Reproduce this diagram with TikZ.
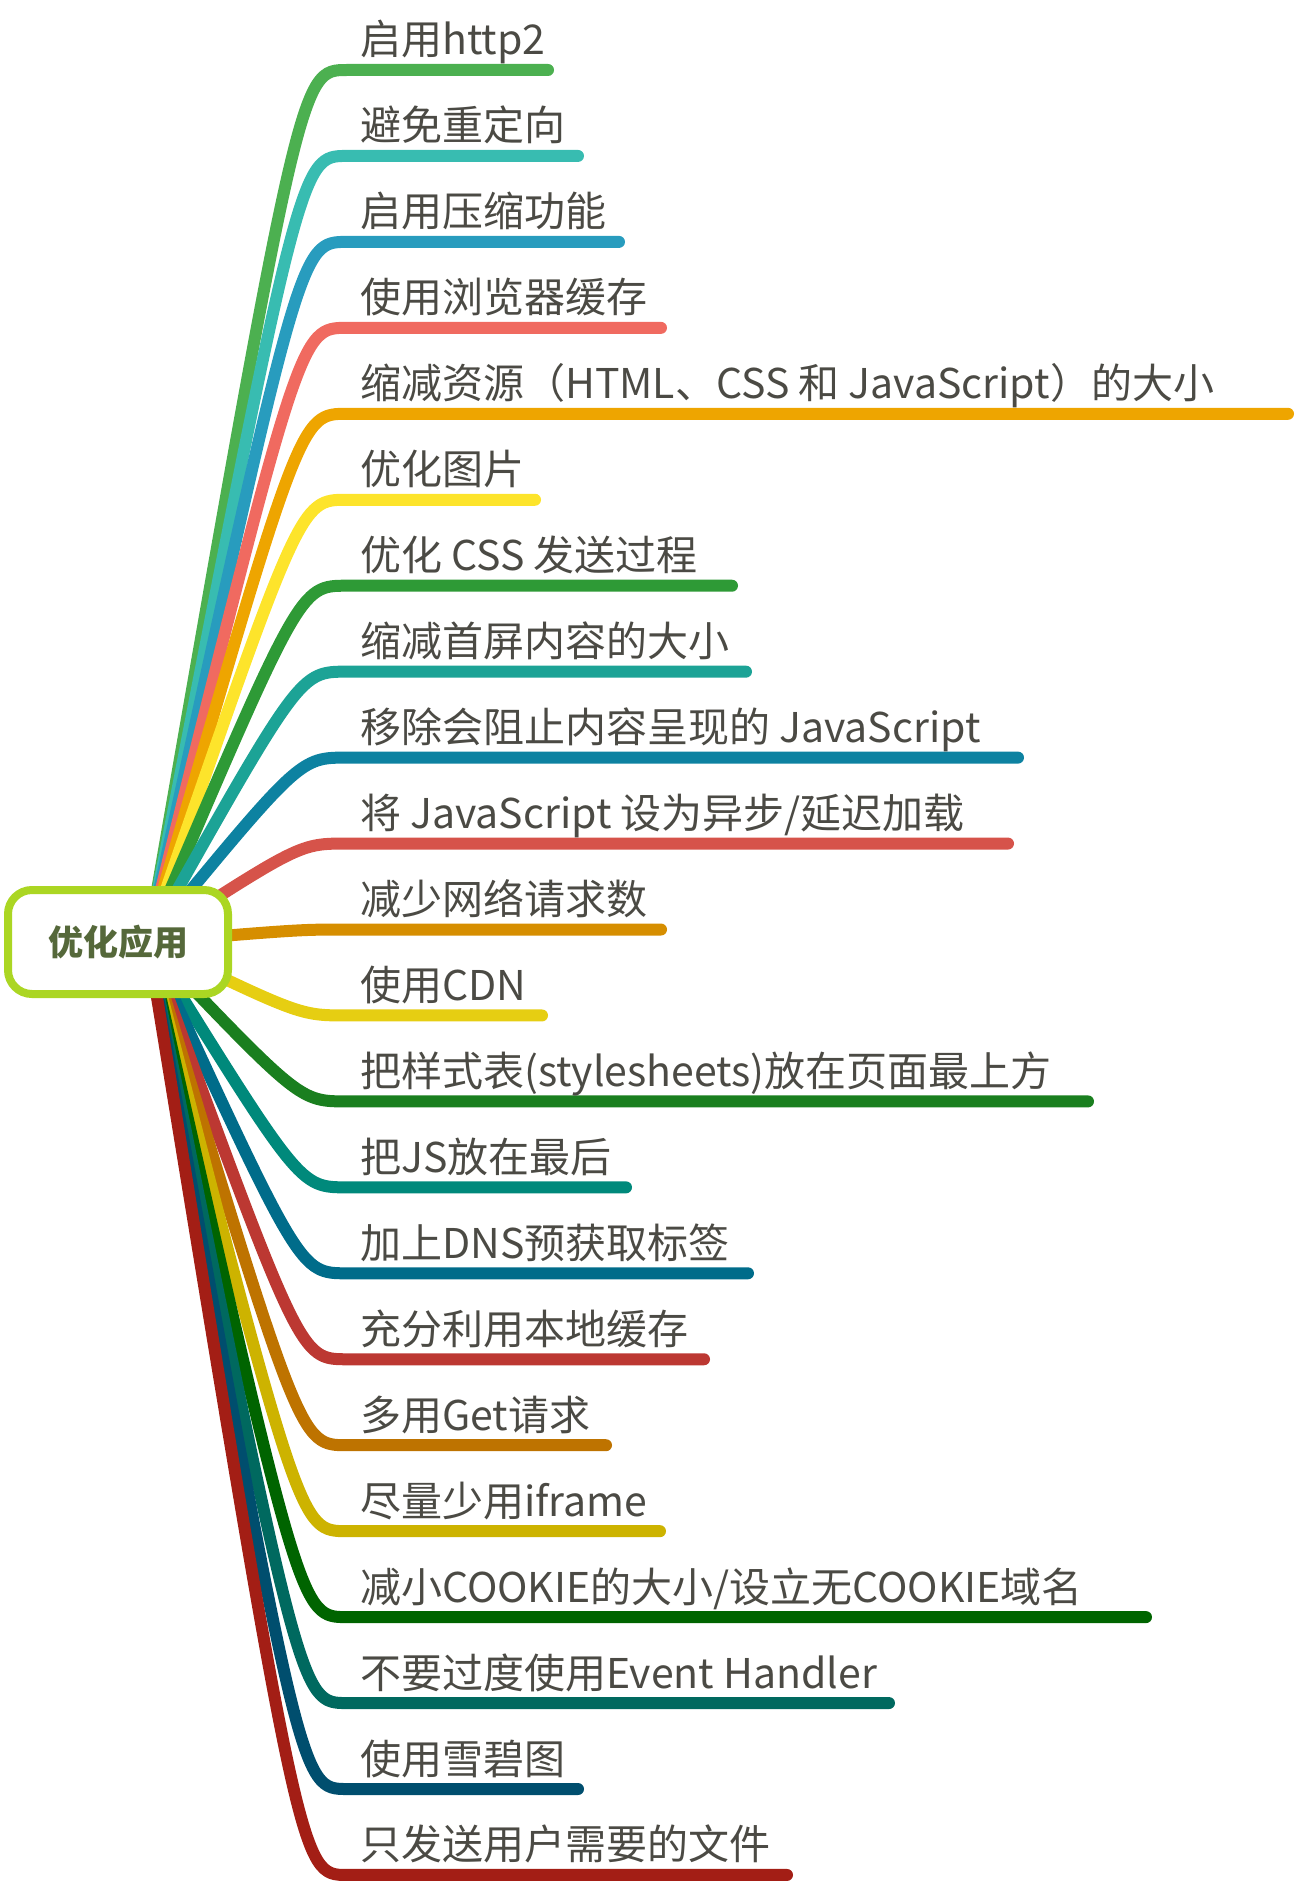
\documentclass[tikz,border=0pt]{standalone}
\usepackage{fontspec}
\setmainfont{Noto Sans CJK SC}
\newfontfamily\cjk{Noto Sans CJK SC}
\usetikzlibrary{backgrounds}
\definecolor{c1}{HTML}{4CB050}
\definecolor{c2}{HTML}{38BCB1}
\definecolor{c3}{HTML}{289CBE}
\definecolor{c4}{HTML}{F06A60}
\definecolor{c5}{HTML}{EEA500}
\definecolor{c6}{HTML}{FDE42B}
\definecolor{c7}{HTML}{2E9A36}
\definecolor{c8}{HTML}{1CA396}
\definecolor{c9}{HTML}{0D82A1}
\definecolor{c10}{HTML}{D6534A}
\definecolor{c11}{HTML}{D68E00}
\definecolor{c12}{HTML}{E6CE12}
\definecolor{c13}{HTML}{1A7F1F}
\definecolor{c14}{HTML}{00897B}
\definecolor{c15}{HTML}{006C8A}
\definecolor{c16}{HTML}{BC3832}
\definecolor{c17}{HTML}{BE7300}
\definecolor{c18}{HTML}{CDB300}
\definecolor{c19}{HTML}{006400}
\definecolor{c20}{HTML}{00695F}
\definecolor{c21}{HTML}{004E6E}
\definecolor{c22}{HTML}{A31E15}
\definecolor{lblcol}{HTML}{4B4A44}
\definecolor{rootborder}{HTML}{ABD623}
\definecolor{roottext}{HTML}{55683A}
\tikzset{
  lbl/.style={inner sep=0pt, text=lblcol, font=\cjk\fontsize{41}{41}\selectfont},
  br/.style={line width=12pt, line cap=round, line join=round},
  rootbox/.style={draw=rootborder, line width=8pt, fill=white, rounded corners=24pt,
    minimum width=220pt, minimum height=104pt, inner sep=0pt,
    text=roottext, font=\cjk\bfseries\fontsize{35}{35}\selectfont}
}
\newcommand{\mmbranch}[4]{%
  \pgfmathsetmacro{\yy}{70+(#1-1)*85.95}%
  \node[lbl, anchor=base west] (t#1) at (360,\yy-15) {#4};
  \coordinate (s#1) at (347,\yy);
  \coordinate (e#1) at (#3,\yy);
  \begin{pgfonlayer}{background}
    \draw[br, draw=#2] (o) .. controls (300,\yy) .. (s#1) -- (e#1);
  \end{pgfonlayer}
}
\begin{document}
\begin{tikzpicture}[x=1pt,y=-1pt]
\useasboundingbox (0,0) rectangle (1300,1886);
\node[rootbox] (root) at (118,942) {优化应用};
\coordinate (o) at (148,942);
\mmbranch{1}{c1}{548}{启用http2}
\mmbranch{2}{c2}{578}{避免重定向}
\mmbranch{3}{c3}{619}{启用压缩功能}
\mmbranch{4}{c4}{661}{使用浏览器缓存}
\mmbranch{5}{c5}{1288}{缩减资源（HTML、CSS 和 JavaScript）的大小}
\mmbranch{6}{c6}{535}{优化图片}
\mmbranch{7}{c7}{732}{优化 CSS 发送过程}
\mmbranch{8}{c8}{746}{缩减首屏内容的大小}
\mmbranch{9}{c9}{1018}{移除会阻止内容呈现的 JavaScript}
\mmbranch{10}{c10}{1008}{将 JavaScript 设为异步/延迟加载}
\mmbranch{11}{c11}{661}{减少网络请求数}
\mmbranch{12}{c12}{542}{使用CDN}
\mmbranch{13}{c13}{1088}{把样式表(stylesheets)放在页面最上方}
\mmbranch{14}{c14}{626}{把JS放在最后}
\mmbranch{15}{c15}{748}{加上DNS预获取标签}
\mmbranch{16}{c16}{704}{充分利用本地缓存}
\mmbranch{17}{c17}{606}{多用Get请求}
\mmbranch{18}{c18}{660}{尽量少用iframe}
\mmbranch{19}{c19}{1146}{减小COOKIE的大小/设立无COOKIE域名}
\mmbranch{20}{c20}{889}{不要过度使用Event Handler}
\mmbranch{21}{c21}{578}{使用雪碧图}
\mmbranch{22}{c22}{787}{只发送用户需要的文件}
\end{tikzpicture}
\end{document}
